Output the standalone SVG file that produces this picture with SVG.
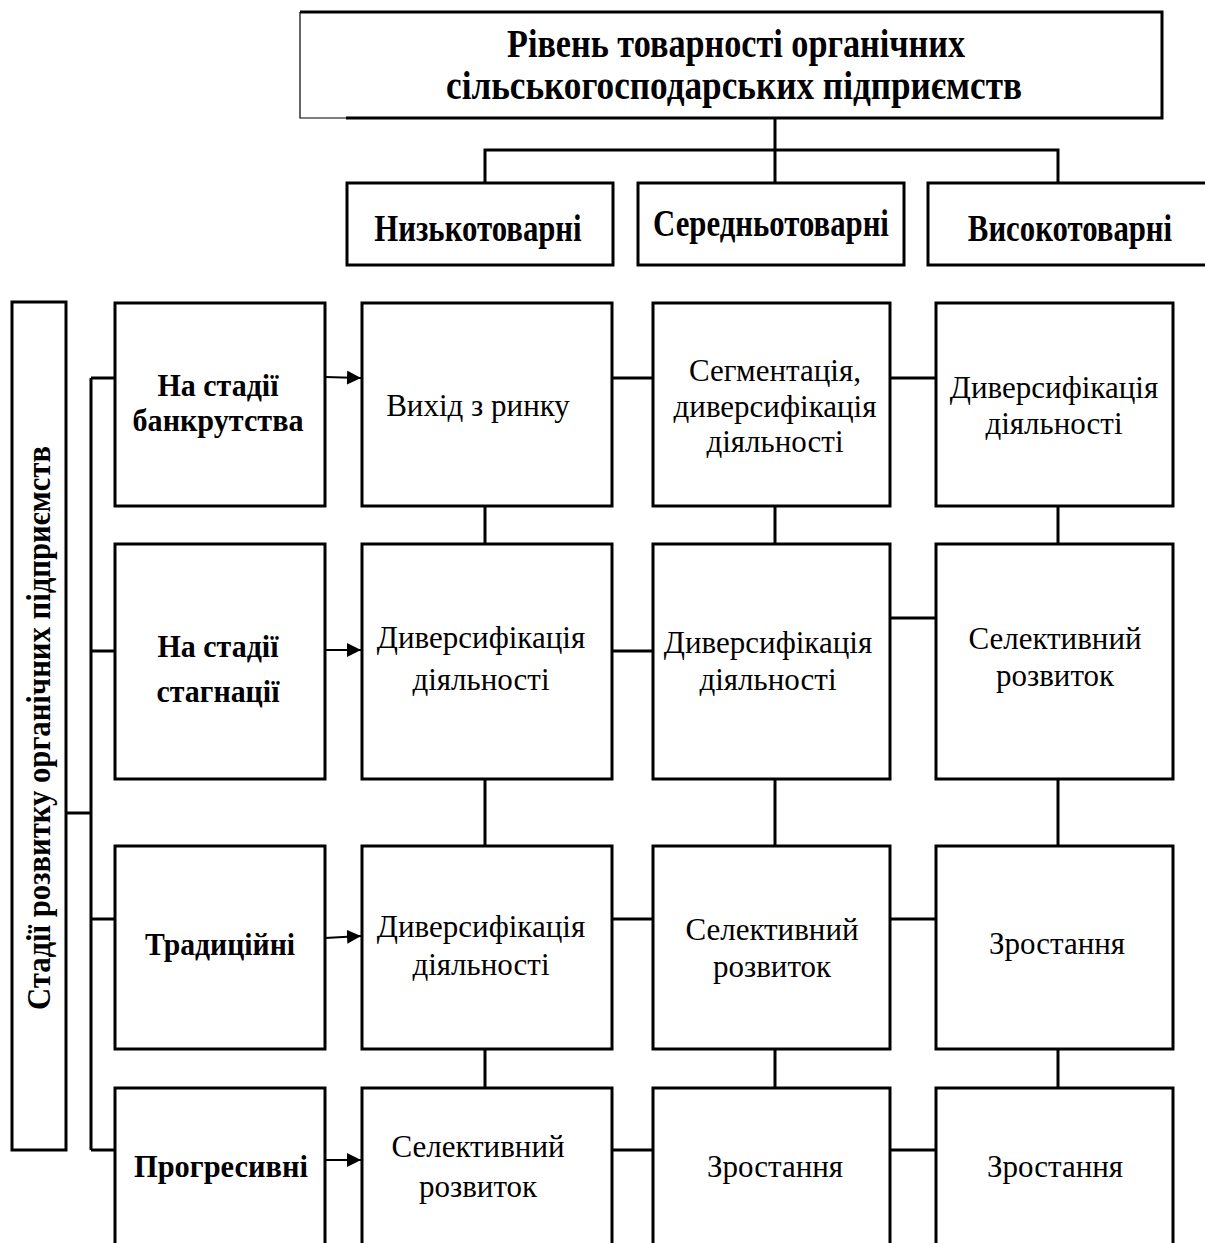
<svg xmlns="http://www.w3.org/2000/svg" width="1205" height="1243" viewBox="0 0 1205 1243">
<style>
  .box { fill: #fff; stroke: #000; stroke-width: 3; }
  .ln { fill: none; stroke: #000; stroke-width: 3; }
  .thin { fill: none; stroke: #000; stroke-width: 1.2; }
  .arr { fill: none; stroke: #000; stroke-width: 2; marker-end: url(#ah); }
  .b { font-family: "Liberation Serif", "Times New Roman", serif; font-weight: bold; font-size: 32px; fill: #000; text-anchor: middle; }
  .r { font-family: "Liberation Serif", "Times New Roman", serif; font-size: 31px; fill: #000; text-anchor: middle; }
  .c { font-family: "Liberation Serif", "Times New Roman", serif; font-weight: bold; font-size: 38px; fill: #000; text-anchor: middle; }
  .t { font-family: "Liberation Serif", "Times New Roman", serif; font-weight: bold; font-size: 41px; fill: #000; text-anchor: middle; }
  .v { font-family: "Liberation Serif", "Times New Roman", serif; font-weight: bold; font-size: 34px; fill: #000; text-anchor: middle; }
</style>
<defs>
  <marker id="ah" viewBox="0 0 10 10" refX="10" refY="5" markerWidth="7" markerHeight="7" markerUnits="strokeWidth" orient="auto">
    <path d="M0,0 L10,5 L0,10 z" fill="#000"/>
  </marker>
</defs>
<rect width="1205" height="1243" fill="#fff"/>

<g id="connectors">
  <path class="ln" d="M775,118 V150 M485,183 V150 H1058 V183 M775,150 V183"/>
  <path class="ln" d="M66,813 H91 M91,378 V1150 M91,378 H115 M91,651 H115 M91,919 H115 M91,1150 H115"/>
  <path class="arr" d="M325,377 L361,378"/>
  <path class="arr" d="M325,650 L361,650"/>
  <path class="arr" d="M325,938 L361,936"/>
  <path class="arr" d="M325,1160 L361,1160"/>
  <path class="ln" d="M485,506 V544 M775,506 V544 M1058,506 V544"/>
  <path class="ln" d="M485,779 V846 M775,779 V846 M1058,779 V846"/>
  <path class="ln" d="M485,1049 V1088 M775,1049 V1088 M1058,1049 V1088"/>
  <path class="ln" d="M612,378 H653 M890,378 H936"/>
  <path class="ln" d="M612,651 H653 M890,618 H936"/>
  <path class="ln" d="M612,919 H653 M890,919 H936"/>
  <path class="ln" d="M612,1150 H653 M890,1150 H936"/>
</g>

<g id="title">
  <rect x="300" y="12" width="862" height="106" fill="#fff"/>
  <path class="ln" d="M300,12 H1162 V118 H346"/>
  <path class="thin" d="M300,12 V118 H346"/>
  <text class="t" x="736" y="57" textLength="458" lengthAdjust="spacingAndGlyphs">Рівень товарності органічних</text>
  <text class="t" x="734" y="99" textLength="576" lengthAdjust="spacingAndGlyphs">сільськогосподарських підприємств</text>
</g>

<g id="cat-low">
  <rect class="box" x="347" y="183" width="266" height="82"/>
  <text class="c" transform="translate(478,241) scale(0.81,1)">Низькотоварні</text>
</g>
<g id="cat-mid">
  <rect class="box" x="638" y="183" width="266" height="82"/>
  <text class="c" transform="translate(771,236) scale(0.81,1)">Середньотоварні</text>
</g>
<g id="cat-high">
  <path class="box" d="M1205,183 H928 V265 H1205"/>
  <text class="c" transform="translate(1070,241) scale(0.81,1)">Високотоварні</text>
</g>

<g id="stages-label">
  <rect class="box" x="12" y="302" width="54" height="848"/>
  <text class="v" transform="translate(50,728) rotate(-90)" textLength="564" lengthAdjust="spacingAndGlyphs">Стадії розвитку органічних підприємств</text>
</g>

<g id="stage-bankrupt">
  <rect class="box" x="115" y="303" width="210" height="203"/>
  <text class="b" x="218" y="396" textLength="121" lengthAdjust="spacingAndGlyphs">На стадії</text>
  <text class="b" x="218" y="431" textLength="171" lengthAdjust="spacingAndGlyphs">банкрутства</text>
</g>
<g id="stage-stagnation">
  <rect class="box" x="115" y="544" width="210" height="235"/>
  <text class="b" x="218" y="657" textLength="121" lengthAdjust="spacingAndGlyphs">На стадії</text>
  <text class="b" x="218" y="702" textLength="123" lengthAdjust="spacingAndGlyphs">стагнації</text>
</g>
<g id="stage-traditional">
  <rect class="box" x="115" y="846" width="210" height="203"/>
  <text class="b" x="220" y="955" textLength="150" lengthAdjust="spacingAndGlyphs">Традиційні</text>
</g>
<g id="stage-progressive">
  <path class="box" d="M115,1243 V1088 H325 V1243"/>
  <text class="b" x="221" y="1177" textLength="174" lengthAdjust="spacingAndGlyphs">Прогресивні</text>
</g>

<g id="c1-low">
  <rect class="box" x="362" y="303" width="250" height="203"/>
  <text class="r" x="478" y="416">Вихід з ринку</text>
</g>
<g id="c1-mid">
  <rect class="box" x="653" y="303" width="237" height="203"/>
  <text class="r" x="775" y="381">Сегментація,</text>
  <text class="r" x="775" y="417">диверсифікація</text>
  <text class="r" x="775" y="452">діяльності</text>
</g>
<g id="c1-high">
  <rect class="box" x="936" y="303" width="237" height="203"/>
  <text class="r" x="1054" y="398">Диверсифікація</text>
  <text class="r" x="1054" y="434">діяльності</text>
</g>

<g id="c2-low">
  <rect class="box" x="362" y="544" width="250" height="235"/>
  <text class="r" x="481" y="648">Диверсифікація</text>
  <text class="r" x="481" y="690">діяльності</text>
</g>
<g id="c2-mid">
  <rect class="box" x="653" y="544" width="237" height="235"/>
  <text class="r" x="768" y="653">Диверсифікація</text>
  <text class="r" x="768" y="690">діяльності</text>
</g>
<g id="c2-high">
  <rect class="box" x="936" y="544" width="237" height="235"/>
  <text class="r" x="1055" y="649">Селективний</text>
  <text class="r" x="1055" y="686">розвиток</text>
</g>

<g id="c3-low">
  <rect class="box" x="362" y="846" width="250" height="203"/>
  <text class="r" x="481" y="937">Диверсифікація</text>
  <text class="r" x="481" y="975">діяльності</text>
</g>
<g id="c3-mid">
  <rect class="box" x="653" y="846" width="237" height="203"/>
  <text class="r" x="772" y="940">Селективний</text>
  <text class="r" x="772" y="977">розвиток</text>
</g>
<g id="c3-high">
  <rect class="box" x="936" y="846" width="237" height="203"/>
  <text class="r" x="1057" y="954">Зростання</text>
</g>

<g id="c4-low">
  <path class="box" d="M362,1243 V1088 H612 V1243"/>
  <text class="r" x="478" y="1157">Селективний</text>
  <text class="r" x="478" y="1197">розвиток</text>
</g>
<g id="c4-mid">
  <path class="box" d="M653,1243 V1088 H890 V1243"/>
  <text class="r" x="775" y="1177">Зростання</text>
</g>
<g id="c4-high">
  <path class="box" d="M936,1243 V1088 H1173 V1243"/>
  <text class="r" x="1055" y="1177">Зростання</text>
</g>
</svg>
